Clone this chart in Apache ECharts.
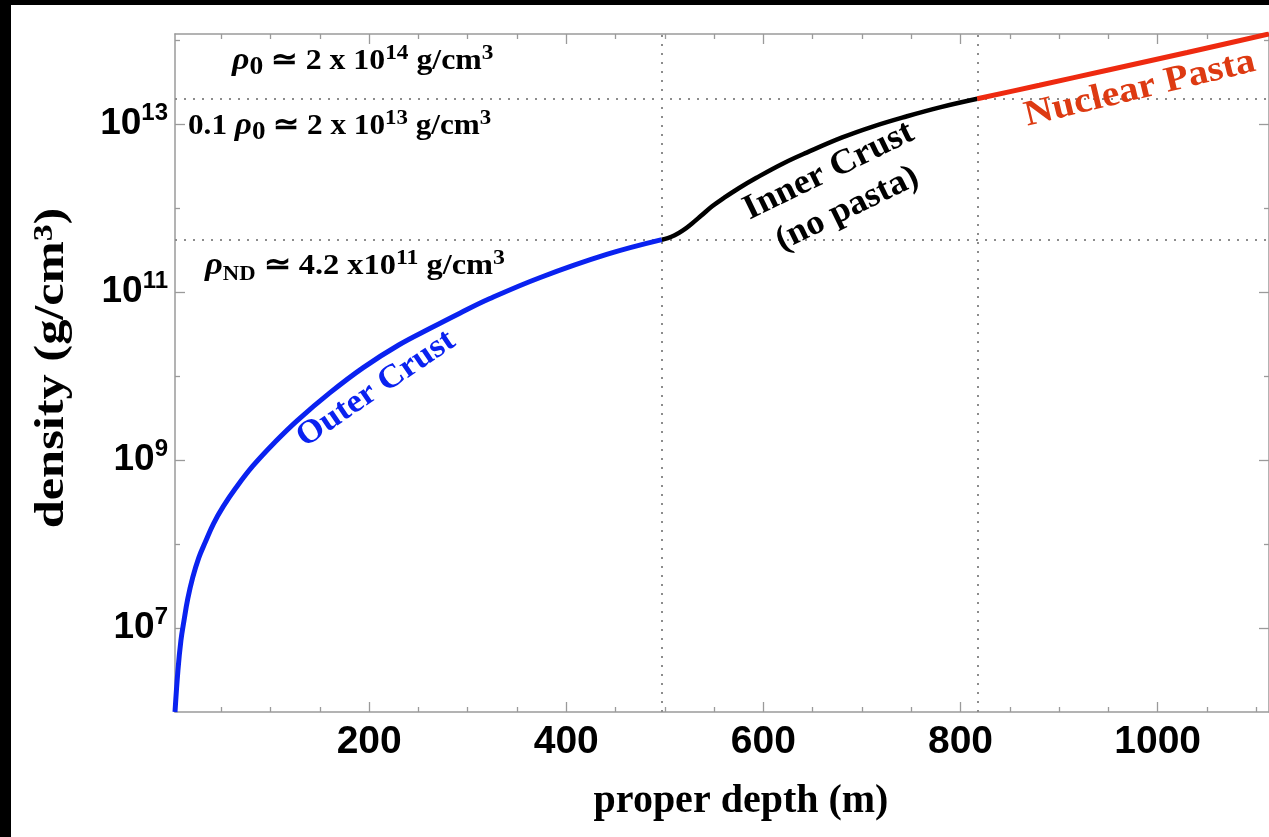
<!DOCTYPE html>
<html><head><meta charset="utf-8">
<script src="https://cdn.jsdelivr.net/npm/echarts@6/dist/echarts.min.js"></script>
<style>html,body{margin:0;padding:0;background:#000;} #c{width:1269px;height:837px;}</style>
</head><body><div id="c"></div>
<script>
// ---- data ----
const outerDepth   = [3, 6, 9, 12, 16, 21, 27, 34, 42, 52, 65, 82, 105, 127, 160, 194, 230, 262, 292, 322, 373, 441, 497];
const outerDensity = [1e6, 3.16e6, 7.1e6, 1.2e7, 2.24e7, 4.0e7, 6.8e7, 1.07e8, 1.74e8, 2.8e8, 4.7e8, 8.5e8, 1.66e9, 2.95e9, 6.3e9, 1.26e10, 2.34e10, 3.7e10, 5.6e10, 8.3e10, 1.48e11, 2.8e11, 4.2e11];
const innerDepth   = [497, 503, 510, 518, 527, 537, 548, 560, 575, 593, 620, 644, 680, 711, 745, 779, 817];
const innerDensity = [4.2e11, 4.37e11, 4.73e11, 5.37e11, 6.46e11, 8.13e11, 1.05e12, 1.32e12, 1.72e12, 2.29e12, 3.39e12, 4.57e12, 6.92e12, 9.33e12, 1.23e13, 1.58e13, 2.0e13];
const pastaDepth   = [817, 880, 950, 1030, 1113];
const pastaDensity = [2.0e13, 2.9e13, 4.4e13, 7.1e13, 1.18e14];
const boundaryDepths    = [497, 817];
const boundaryDensities = [2e13, 4.2e11];
const xMajorTicks = [200, 400, 600, 800, 1000];
const xMinorTicks = [50, 100, 150, 250, 300, 350, 450, 500, 550, 650, 700, 750, 850, 900, 950, 1050, 1100];
const yMajorTicks = [1e7, 1e9, 1e11, 1e13];
const yMinorTicks = [1e8, 1e10, 1e12, 1e14];
const xRange = [3, 1113];
const yRange = [1e6, 1.18e14];

const zip = (a, b) => a.map((v, i) => [v, b[i]]);
const GRAY = '#9a9a9a';
const SERIF = '"Liberation Serif", "Times New Roman", serif';
const SANS = '"Liberation Sans", Arial, sans-serif';

function xAx(pos, ticks, len, showLine, showLabel) {
  return {
    type: 'value', position: pos, min: xRange[0], max: xRange[1],
    axisLine: { show: showLine, onZero: false, lineStyle: { color: GRAY, width: 1.5 } },
    axisTick: { show: true, inside: true, length: len, customValues: ticks, lineStyle: { color: GRAY, width: 1.3 } },
    axisLabel: showLabel ? { show: true, customValues: ticks, margin: 11, color: '#000', fontFamily: SANS, fontWeight: 'bold', fontSize: 39,
                             formatter: v => String(v) } : { show: false },
    splitLine: { show: false }
  };
}
function yAx(pos, ticks, len, showLine, showLabel) {
  return {
    type: 'log', logBase: 10, position: pos, min: yRange[0], max: yRange[1],
    axisLine: { show: showLine, onZero: false, lineStyle: { color: GRAY, width: 1.5 } },
    axisTick: { show: true, inside: true, length: len, customValues: ticks, lineStyle: { color: GRAY, width: 1.3 } },
    axisLabel: showLabel ? {
      show: true, customValues: ticks, margin: 7, color: '#000',
      fontFamily: SANS, fontWeight: 'bold', fontSize: 37, lineHeight: 46,
      formatter: v => '10{sup|' + Math.round(Math.log10(v)) + '}',
      rich: { sup: { fontFamily: SANS, fontWeight: 'bold', fontSize: 24, lineHeight: 24, verticalAlign: 'top', color: '#000' } }
    } : { show: false },
    splitLine: { show: false }
  };
}

const xAxes = [xAx('bottom', xMajorTicks, 10, true, true), xAx('bottom', xMinorTicks, 5, false, false),
               xAx('top', xMajorTicks, 10, true, false), xAx('top', xMinorTicks, 5, false, false)];
xAxes[0].name = 'proper depth (m)';
xAxes[0].nameLocation = 'middle';
xAxes[0].nameGap = 70;
xAxes[0].nameTextStyle = { fontFamily: SERIF, fontWeight: 'bold', fontSize: 40, color: '#000', padding: [0, 0, 0, 38] };

const yAxes = [yAx('left', yMajorTicks, 10, true, true), yAx('left', yMinorTicks, 5, false, false),
               yAx('right', yMajorTicks, 10, true, false), yAx('right', yMinorTicks, 5, false, false)];

function richSet(fs) {
  const base = { fontFamily: SERIF, fontWeight: 'bold', fill: '#000' };
  return {
    i: Object.assign({}, base, { fontStyle: 'italic', fontSize: fs + 2 }),
    s: Object.assign({}, base, { fontSize: fs - 4, verticalAlign: 'bottom', lineHeight: fs - 4 }),
    n: Object.assign({}, base, { fontSize: fs - 9, verticalAlign: 'bottom', lineHeight: fs - 6 }),
    p: Object.assign({}, base, { fontSize: fs - 8, verticalAlign: 'top', lineHeight: fs - 8 })
  };
}
function note(x, y, text, fs, sx) {
  return {
    type: 'text', x: x, y: y, z: 50, scaleX: sx,
    style: { text: text, fontFamily: SERIF, fontWeight: 'bold', fontSize: fs, lineHeight: fs + 8, fill: '#000',
             align: 'left', verticalAlign: 'middle', rich: richSet(fs) }
  };
}
function tag(x, y, text, deg, fs, color, lh, sx) {
  return {
    type: 'text', x: x, y: y, rotation: deg * Math.PI / 180, scaleX: sx || 1, z: 50,
    style: { text: text, fontFamily: SERIF, fontWeight: 'bold', fontSize: fs, lineHeight: lh || fs, fill: color,
             align: 'center', verticalAlign: 'middle' }
  };
}

const chart = echarts.init(document.getElementById('c'), null, { renderer: 'canvas' });
chart.setOption({
  backgroundColor: '#fff',
  animation: false,
  grid: { left: 175, top: 34, right: 0, bottom: 125, containLabel: false },
  xAxis: xAxes,
  yAxis: yAxes,
  series: [
    { type: 'line', data: [], z: 1, silent: true,
      markLine: { silent: true, symbol: 'none', label: { show: false },
        lineStyle: { color: '#8c8c8c', type: [2, 7], width: 2 },
        data: boundaryDepths.map(d => ({ xAxis: d })).concat(boundaryDensities.map(v => ({ yAxis: v }))) } },
    { name: 'Outer Crust', type: 'line', data: zip(outerDepth, outerDensity), showSymbol: false, smooth: 0.4, z: 5,
      lineStyle: { color: '#0a22f0', width: 5 } },
    { name: 'Inner Crust', type: 'line', data: zip(innerDepth, innerDensity), showSymbol: false, smooth: 0.4, z: 5,
      lineStyle: { color: '#000', width: 4.5 } },
    { name: 'Nuclear Pasta', type: 'line', data: zip(pastaDepth, pastaDensity), showSymbol: false, smooth: 0.3, z: 5,
      lineStyle: { color: '#ee2a10', width: 5 } }
  ],
  graphic: [
    { type: 'rect', shape: { x: 0, y: 0, width: 1269, height: 5 }, style: { fill: '#000' }, z: 100 },
    { type: 'rect', shape: { x: 0, y: 0, width: 11, height: 837 }, style: { fill: '#000' }, z: 100 },
    note(232, 61, '{i|ρ}{s|0} ≃ 2 x 10{p|14} g/cm{p|3}', 30, 1.06),
    note(188, 126, '0.1 {i|ρ}{s|0} ≃ 2 x 10{p|13} g/cm{p|3}', 30, 1.04),
    note(205, 266, '{i|ρ}{n|ND} ≃ 4.2 x10{p|11} g/cm{p|3}', 30, 1.08),
    tag(376, 389, 'Outer Crust', 34, 33, '#0a22f0', 33, 1.06),
    tag(838, 190, 'Inner Crust\n(no pasta)', 26, 35, '#000', 42, 1.04),
    tag(1140, 89, 'Nuclear Pasta', 13.5, 36, '#dd3a12', 36, 1.1),
    { type: 'text', x: 52, y: 368, rotation: Math.PI / 2, scaleX: 1.2, z: 50,
      style: { text: 'density (g/cm{p|3})', fontFamily: SERIF, fontWeight: 'bold', fontSize: 42, fill: '#000',
               align: 'center', verticalAlign: 'middle',
               rich: { p: { fontFamily: SERIF, fontWeight: 'bold', fontSize: 28, lineHeight: 28, verticalAlign: 'top', fill: '#000' } } } }
  ]
});
</script></body></html>
